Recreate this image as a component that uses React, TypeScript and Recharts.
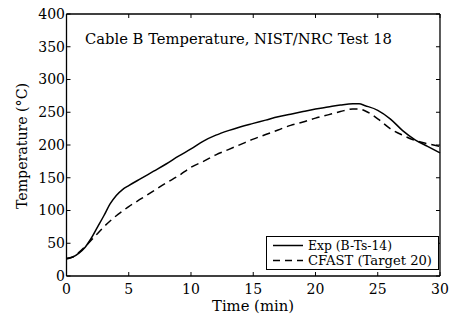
import { Line, LineChart, XAxis, YAxis } from 'recharts';

const times = [0, 0.5, 1, 1.5, 2, 2.5, 3, 3.5, 4, 4.5, 5, 6, 7, 8, 9, 10, 11, 12, 13, 14, 15, 16, 17, 18, 19, 20, 21, 22, 23, 23.5, 24, 25, 26, 27, 28, 29, 30];
const expTemps = [27, 29, 35, 44, 58, 75, 92, 110, 123, 132, 138, 149, 160, 171, 183, 194, 206, 215, 222, 228, 233, 238, 243, 247, 251, 255, 258, 261, 263, 263, 260, 253, 240, 222, 208, 198, 188];
const cfastTemps = [26, 29, 36, 45, 55, 65, 75, 84, 92, 99, 106, 118, 130, 142, 153, 166, 175, 185, 193, 201, 209, 216, 223, 230, 235, 241, 246, 251, 255, 255, 252, 240, 225, 215, 207, 202, 198];

const xTicks = [0, 5, 10, 15, 20, 25, 30];
const yTicks = [0, 50, 100, 150, 200, 250, 300, 350, 400];

const seriesNames = ['Exp (B-Ts-14)', 'CFAST (Target 20)'];
const title = 'Cable B Temperature, NIST/NRC Test 18';

const data = times.map((t, i) => ({ t, exp: expTemps[i], cfast: cfastTemps[i] }));

const font = 'DejaVu Serif, Liberation Serif, serif';
const tickStyle = { fontSize: 14, fill: '#000', fontFamily: font };
const frame = { stroke: '#000', strokeWidth: 1.3 };

function NoLabel() {
  return <g />;
}

// legend box drawn on top, bottom right of the plot
function LegendBox() {
  return (
    <svg width={173} height={34} style={{ position: 'absolute', left: 266, top: 236 }}>
      <rect x={0.5} y={0.5} width={172} height={33} fill="#fff" stroke="#000" strokeWidth={1} />
      <line x1={7} x2={37} y1={9.5} y2={9.5} stroke="#000" strokeWidth={1.5} />
      <line x1={7} x2={37} y1={24.5} y2={24.5} stroke="#000" strokeWidth={1.5} strokeDasharray="7 5" />
      <text x={42} y={14} fontSize={13} fontFamily={font} textLength={84} lengthAdjust="spacingAndGlyphs">{seriesNames[0]}</text>
      <text x={42} y={29} fontSize={13} fontFamily={font} textLength={124} lengthAdjust="spacingAndGlyphs">{seriesNames[1]}</text>
    </svg>
  );
}

export default function App() {
  return (
    <div style={{ position: 'absolute', left: 0, top: 0, width: 453, height: 320, background: '#fff' }}>
      <LineChart width={453} height={320} data={data} margin={{ top: 14, right: 13, bottom: 0, left: 0 }}>
        <XAxis
          dataKey="t"
          type="number"
          domain={[0, 30]}
          ticks={xTicks}
          height={44}
          tickSize={-4}
          tickMargin={12}
          tick={tickStyle}
          axisLine={frame}
          tickLine={{ stroke: '#000' }}
        />
        <XAxis
          xAxisId="top"
          orientation="top"
          dataKey="t"
          type="number"
          domain={[0, 30]}
          ticks={xTicks}
          height={0.01}
          tickSize={-4}
          tick={<NoLabel />}
          axisLine={frame}
          tickLine={{ stroke: '#000' }}
        />
        <YAxis
          type="number"
          domain={[0, 400]}
          ticks={yTicks}
          width={66.5}
          tickSize={-4}
          tickMargin={5.5}
          tick={tickStyle}
          axisLine={frame}
          tickLine={{ stroke: '#000' }}
        />
        <YAxis
          yAxisId="right"
          orientation="right"
          type="number"
          domain={[0, 400]}
          ticks={yTicks}
          width={0.01}
          tickSize={-4}
          tick={<NoLabel />}
          axisLine={frame}
          tickLine={{ stroke: '#000' }}
        />
        <Line type="monotone" dataKey="exp" stroke="#000" strokeWidth={1.5} dot={false} isAnimationActive={false} />
        <Line
          xAxisId="top"
          yAxisId="right"
          type="monotone"
          dataKey="cfast"
          stroke="#000"
          strokeWidth={1.5}
          strokeDasharray="8 5"
          dot={false}
          isAnimationActive={false}
        />
      </LineChart>
      <svg width={453} height={320} style={{ position: 'absolute', left: 0, top: 0, pointerEvents: 'none' }}>
        <text x={85} y={44} fontSize={15} fontFamily={font} textLength={307} lengthAdjust="spacingAndGlyphs">{title}</text>
        <text x={253} y={311} fontSize={14} fontFamily={font} textAnchor="middle" textLength={82} lengthAdjust="spacingAndGlyphs">Time (min)</text>
        <text transform="translate(27, 146) rotate(-90)" fontSize={14} fontFamily={font} textAnchor="middle" textLength={126} lengthAdjust="spacingAndGlyphs">Temperature (°C)</text>
      </svg>
      <LegendBox />
    </div>
  );
}
